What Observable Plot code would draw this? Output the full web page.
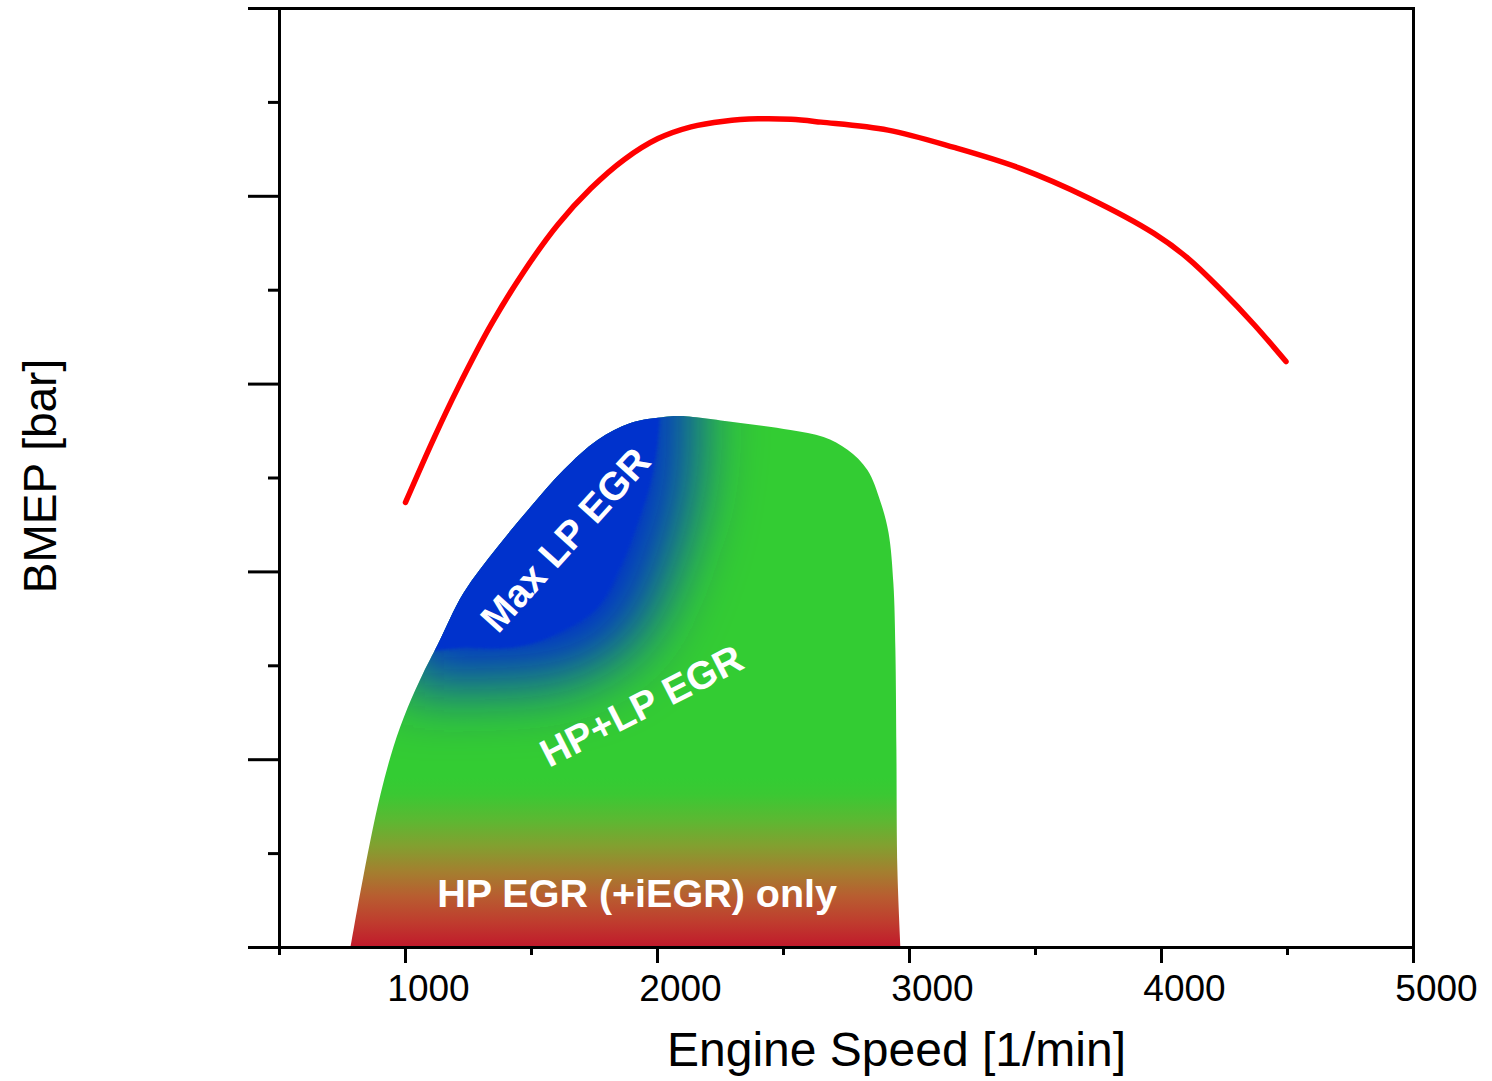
<!DOCTYPE html>
<html>
<head>
<meta charset="utf-8">
<script src="https://cdn.jsdelivr.net/npm/d3@7"></script>
<script src="https://cdn.jsdelivr.net/npm/@observablehq/plot@0.6"></script>
<style>
  html, body { margin: 0; padding: 0; background: #fff; }
  svg { display: block; }
</style>
</head>
<body>
<div id="chart"></div>
<script>
// ---- Data ----
// Full-load BMEP curve (red)
const fullLoadRpm  = [1000, 1113, 1208, 1339, 1470, 1605, 1736, 1867, 2002, 2133, 2264, 2399, 2530, 2649, 2915, 3177, 3442, 3708, 3970, 4105, 4236, 4367, 4494];
const fullLoadBmep = [9.48, 10.85, 11.92, 13.26, 14.40, 15.40, 16.17, 16.78, 17.23, 17.48, 17.60, 17.65, 17.64, 17.58, 17.41, 17.04, 16.59, 15.97, 15.21, 14.68, 14.01, 13.27, 12.48];

// Upper boundary of the EGR operating region (green area)
const egrRpm  = [784, 823, 863, 903, 954, 1010, 1073, 1129, 1232, 1367, 1498, 1629, 1764, 1895, 2026, 2093, 2331, 2530, 2661, 2756, 2835, 2887, 2919, 2938, 2946, 2950, 2954, 2966];
const egrBmep = [0, 1.17, 2.28, 3.26, 4.26, 5.09, 5.84, 6.43, 7.54, 8.52, 9.37, 10.16, 10.80, 11.16, 11.29, 11.31, 11.16, 11.01, 10.86, 10.59, 10.16, 9.48, 8.82, 7.75, 6.33, 4.20, 1.64, 0];

// Lower boundary of the "Max LP EGR" zone (blue core)
const lpRpm  = [1105, 1232, 1367, 1498, 1629, 1764, 1855, 1923, 1974, 2002, 2012];
const lpBmep = [6.30, 6.37, 6.35, 6.45, 6.73, 7.22, 8.07, 9.01, 9.86, 10.71, 11.40];

// Axis ticks
const xMajorTicks = [1000, 2000, 3000, 4000, 5000];
const xMinorTicks = [500, 1500, 2500, 3500, 4500];
const yMajorTicks = [0, 4, 8, 12, 16, 20];
const yMinorTicks = [2, 6, 10, 14, 18];

// Labels
const xLabel = "Engine Speed [1/min]";
const yLabel = "BMEP [bar]";
const zoneLabels = ["Max LP EGR", "HP+LP EGR", "HP EGR (+iEGR) only"];
const zoneRpm  = [1637, 1938, 1919];
const zoneBmep = [8.67, 5.13, 1.13];

// ---- Tables ----
const fullLoad = fullLoadRpm.map((r, i) => ({rpm: r, bmep: fullLoadBmep[i]}));
const egr = egrRpm.map((r, i) => ({rpm: r, bmep: egrBmep[i]}));
const lp = lpRpm.map((r, i) => ({rpm: r, lower: lpBmep[i]}));
const zones = zoneLabels.map((t, i) => ({text: t, rpm: zoneRpm[i], bmep: zoneBmep[i]}));

const font = "'Liberation Sans', Arial, Helvetica, sans-serif";

const chart = Plot.plot({
  width: 1492,
  height: 1081,
  marginLeft: 279,
  marginRight: 79,
  marginTop: 8,
  marginBottom: 134,
  style: {fontFamily: font, background: "white", color: "black", overflow: "visible"},
  x: {domain: [500, 5000]},
  y: {domain: [0, 20]},
  marks: [
    Plot.areaY(egr, {x: "rpm", y: "bmep", curve: "catmull-rom", fill: "url(#egrGrad)"}),
    Plot.areaY(lp, {x: "rpm", y1: "lower", y2: 14, curve: "catmull-rom", fill: "#0033cc"}),
    Plot.areaY(lp, {x: "rpm", y1: "lower", y2: 14, curve: "catmull-rom", fill: "#0033cc"}),
    Plot.line(fullLoad, {x: "rpm", y: "bmep", curve: "catmull-rom", stroke: "#ff0000", strokeWidth: 5.5}),
    Plot.text([zones[0]], {x: "rpm", y: "bmep", text: "text", rotate: -48, fill: "white", fontSize: 39, fontWeight: "bold"}),
    Plot.text([zones[1]], {x: "rpm", y: "bmep", text: "text", rotate: -27, fill: "white", fontSize: 39, fontWeight: "bold"}),
    Plot.text([zones[2]], {x: "rpm", y: "bmep", text: "text", fill: "white", fontSize: 39.5, fontWeight: "bold"}),
    Plot.frame({stroke: "black", strokeWidth: 3}),
    Plot.axisX({ticks: xMajorTicks, tickSize: 16, strokeWidth: 3, fill: "none", label: null}),
    Plot.axisX({ticks: xMinorTicks, tickSize: 8, strokeWidth: 3, fill: "none", label: null}),
    Plot.axisX({ticks: xMajorTicks, tickSize: 16, tickPadding: 11, stroke: "none", fill: "black", fontSize: 37, dx: 23, tickFormat: d => String(d), label: null}),
    Plot.axisY({ticks: yMajorTicks, tickSize: 31, strokeWidth: 3, fill: "none", label: null}),
    Plot.axisY({ticks: yMinorTicks, tickSize: 11, strokeWidth: 3, fill: "none", label: null}),
    Plot.text([xLabel], {frameAnchor: "bottom", dx: 50, dy: 103, fontSize: 48, fill: "black", lineAnchor: "middle", textAnchor: "middle"}),
    Plot.text([yLabel], {frameAnchor: "left", dx: -238, dy: -2, rotate: -90, fontSize: 46, fill: "black", lineAnchor: "middle", textAnchor: "middle"})
  ]
});

document.getElementById("chart").appendChild(chart);

// ---- Gradients, blur and clipping ----
const svg = d3.select(chart);
const yScale = chart.scale("y");
const defs = svg.insert("defs", ":first-child");

const grad = defs.append("linearGradient")
  .attr("id", "egrGrad")
  .attr("gradientUnits", "userSpaceOnUse")
  .attr("x1", 0).attr("x2", 0)
  .attr("y1", yScale.apply(3.6))
  .attr("y2", yScale.apply(0));
[
  [0, "#33cc33"], [0.1, "#3bc833"], [0.25, "#5cb832"], [0.4, "#82a030"],
  [0.55, "#a3802f"], [0.7, "#b85d30"], [0.85, "#bf3d2e"], [1, "#c1192b"]
].forEach(([o, c]) => grad.append("stop").attr("offset", o).attr("stop-color", c));

const blur = defs.append("filter").attr("id", "lpBlur")
  .attr("x", "-60%").attr("y", "-60%").attr("width", "220%").attr("height", "220%");
blur.append("feMorphology").attr("operator", "dilate").attr("radius", 34);
blur.append("feGaussianBlur").attr("stdDeviation", 32);

const soft = defs.append("filter").attr("id", "lpSoft")
  .attr("x", "-10%").attr("y", "-10%").attr("width", "120%").attr("height", "120%");
soft.append("feGaussianBlur").attr("stdDeviation", 1.5);

const areaGroups = svg.selectAll('g[aria-label="area"]').nodes();
const greenG = d3.select(areaGroups[0]);
const greenPath = greenG.select("path");
if (!greenPath.empty()) {
  const clip = defs.append("clipPath").attr("id", "egrClip");
  const cp = clip.append("path").attr("d", greenPath.attr("d"));
  if (greenG.attr("transform")) cp.attr("transform", greenG.attr("transform"));
}
if (areaGroups[1]) d3.select(areaGroups[1]).attr("filter", "url(#lpBlur)").attr("clip-path", "url(#egrClip)");
if (areaGroups[2]) d3.select(areaGroups[2]).attr("filter", "url(#lpSoft)").attr("clip-path", "url(#egrClip)");
</script>
</body>
</html>
